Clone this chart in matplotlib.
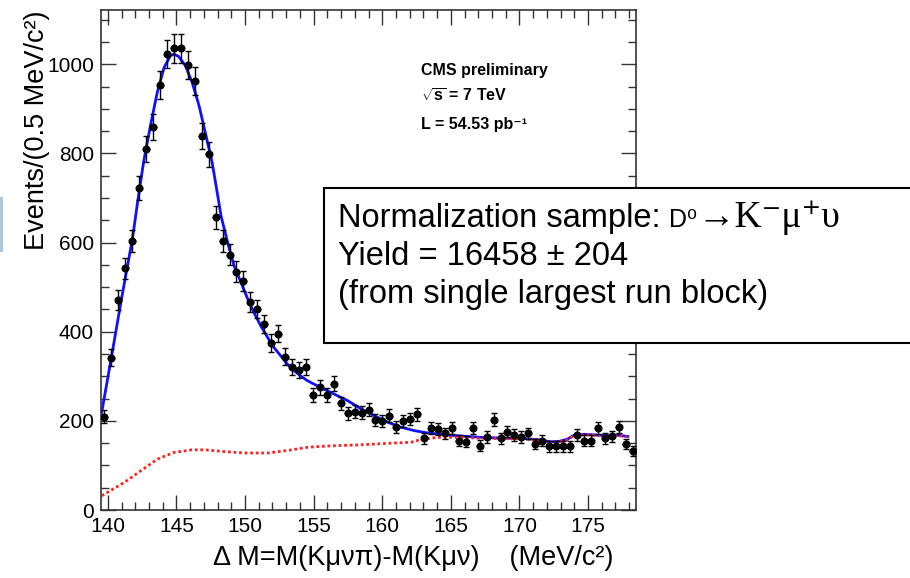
import numpy as np
import matplotlib.pyplot as plt
from matplotlib.ticker import MultipleLocator
from matplotlib.patches import Rectangle
from matplotlib.text import Annotation

# histogram: 77 bins between 139.5 and 178.5 MeV/c^2
bin_lo, bin_hi, n_bins = 139.5, 178.5, 77
counts = [209, 342, 471, 542, 603, 723, 810, 860, 954, 1023,
          1036, 1036, 999, 962, 840, 798, 657, 604, 573, 535,
          514, 467, 451, 417, 375, 396, 344, 320, 315, 320,
          258, 275, 258, 283, 239, 217, 221, 218, 225, 202,
          200, 212, 187, 200, 204, 215, 161, 183, 182, 172,
          183, 155, 153, 183, 144, 164, 203, 161, 176, 168,
          164, 172, 148, 155, 143, 143, 143, 143, 168, 155,
          155, 184, 161, 165, 187, 148, 132]

# total fit (blue)
fit_x = [139.55, 140.3, 141.0, 141.8, 142.2, 142.6, 143.1, 143.6, 144.1, 144.55,
         144.8, 145.15, 145.65, 146.15, 146.65, 147.1, 147.6, 148.0, 148.25, 148.75,
         149.2, 149.7, 150.2, 150.65, 151.15, 151.65, 152.1, 152.6, 153.1, 153.6,
         154.05, 154.55, 155.5, 156.5, 157.5, 158.45, 159.4, 160.4, 161.35, 162.35,
         163.3, 165.25, 167.2, 168.9, 170.1, 171.3, 172.3, 172.9, 173.5, 174.0,
         174.7, 176.2, 177.15, 177.9]
fit_y = [219, 350, 475, 610, 698, 780, 862, 937, 993, 1019,
         1023, 1018, 997, 959, 907, 847, 780, 707, 660, 598,
         548, 511, 473, 443, 413, 387, 365, 346, 327, 312,
         301, 290, 275, 260, 245, 227, 212, 197, 186, 178,
         173, 167, 163, 161, 161, 158, 153, 154, 159, 168,
         170, 167, 168, 165]

# background component (red dotted)
bkg_x = [139.55, 141.2, 142.4, 143.6, 144.8, 146.1, 147.1, 148.5, 150.0, 151.7,
         153.4, 154.6, 156.3, 158.2, 160.7, 162.1, 162.8, 164.0, 165.7, 167.2,
         168.9, 170.1, 171.3, 172.3, 172.9, 173.5, 174.0, 174.7, 176.2, 177.15, 177.9]
bkg_y = [32, 62, 88, 114, 129, 135, 135, 131, 128, 128,
         135, 141, 144, 146, 150, 152, 158, 163, 163, 161,
         160, 160, 157, 152, 153, 158, 167, 169, 166, 167, 164]

edges = np.linspace(bin_lo, bin_hi, n_bins + 1)
centers = 0.5 * (edges[:-1] + edges[1:])
half_w = 0.5 * (edges[1] - edges[0])
counts = np.array(counts)
errs = np.sqrt(counts)

plt.rcParams['font.family'] = ['Liberation Sans', 'DejaVu Sans']
plt.rcParams['mathtext.fontset'] = 'custom'
plt.rcParams['mathtext.rm'] = 'Liberation Sans'
plt.rcParams['mathtext.bf'] = 'Liberation Sans:bold'

W, H = 910, 578
fig = plt.figure(figsize=(W / 100, H / 100), dpi=100)
ax = fig.add_axes([101 / W, 1 - 510 / H, 535 / W, 500 / H])

ax.plot(fit_x, fit_y, color='#1010ff', lw=2.0, zorder=2)
ax.plot(bkg_x, bkg_y, color='#ff2020', lw=2.0, ls=(0, (1, 1)), zorder=3)
ax.errorbar(centers, counts, xerr=half_w, fmt='none', ecolor='black', elinewidth=1, capsize=0, zorder=4)
ax.errorbar(centers, counts, yerr=errs, fmt='o', ms=4.8, color='black', ecolor='black',
            elinewidth=1, capsize=2.2, capthick=1, zorder=5)

ax.set_xlim(bin_lo, bin_hi)
ax.set_ylim(0, 1122)
ax.xaxis.set_major_locator(MultipleLocator(5))
ax.xaxis.set_minor_locator(MultipleLocator(1))
ax.yaxis.set_major_locator(MultipleLocator(200))
ax.yaxis.set_minor_locator(MultipleLocator(50))
ax.tick_params(which='both', direction='in', top=True, right=True, width=1, color='#333333', labelsize=15)
ax.tick_params(which='major', length=11, pad=5)
ax.tick_params(which='minor', length=5.5)
for s in ax.spines.values():
    s.set_linewidth(1.2)
    s.set_color('#333333')

fig.text(37 / W, 1 - 130 / H, 'Events/(0.5 MeV/c²)', rotation=90, ha='center', va='center', fontsize=19.5)
fig.text(613 / W, 13 / H, 'Δ M=M(Kμνπ)-M(Kμν)    (MeV/c²)', ha='right', va='baseline', fontsize=19.5)

# CMS labels
fig.text(421 / W, 1 - 75 / H, 'CMS preliminary', fontsize=11.5, fontweight='bold', va='baseline')
fig.text(421 / W, 1 - 102 / H, r'$\sqrt{\mathbf{s}}$ = 7 TeV', fontsize=11.5, fontweight='bold', va='baseline')
fig.text(421 / W, 1 - 129 / H, 'L = 54.53 pb⁻¹', fontsize=11.5, fontweight='bold', va='baseline')

# slide decoration and the text box
fig.add_artist(Rectangle((0, 1 - 252 / H), 3 / W, 55 / H, transform=fig.transFigure,
                         facecolor='#b0c8de', edgecolor='none'))
fig.add_artist(Rectangle((324 / W, 1 - 343 / H), 600 / W, 155 / H, transform=fig.transFigure,
                         facecolor='white', edgecolor='black', lw=1.5, clip_on=False, zorder=5))

box_fs = 23.5
t1 = fig.text(338 / W, (H - 227) / H, 'Normalization sample:', fontsize=box_fs, va='baseline', zorder=6)
t2 = Annotation('D⁰', xy=(1, H - 227), xycoords=(t1, 'figure pixels'), xytext=(6, 0),
                textcoords='offset points', fontsize=18, va='baseline', zorder=6,
                family=['Liberation Sans', 'DejaVu Sans'])
fig.add_artist(t2)
t3 = Annotation('→K⁻μ⁺υ', xy=(1, H - 227), xycoords=(t2, 'figure pixels'), xytext=(0, 0),
                textcoords='offset points', fontsize=27, va='baseline', zorder=6,
                family=['Liberation Serif', 'DejaVu Serif'])
fig.add_artist(t3)
fig.text(338 / W, (H - 265) / H, 'Yield = 16458 ± 204', fontsize=box_fs, va='baseline', zorder=6)
fig.text(338 / W, (H - 303) / H, '(from single largest run block)', fontsize=box_fs, va='baseline', zorder=6)

fig.savefig('out.png', dpi=100)
